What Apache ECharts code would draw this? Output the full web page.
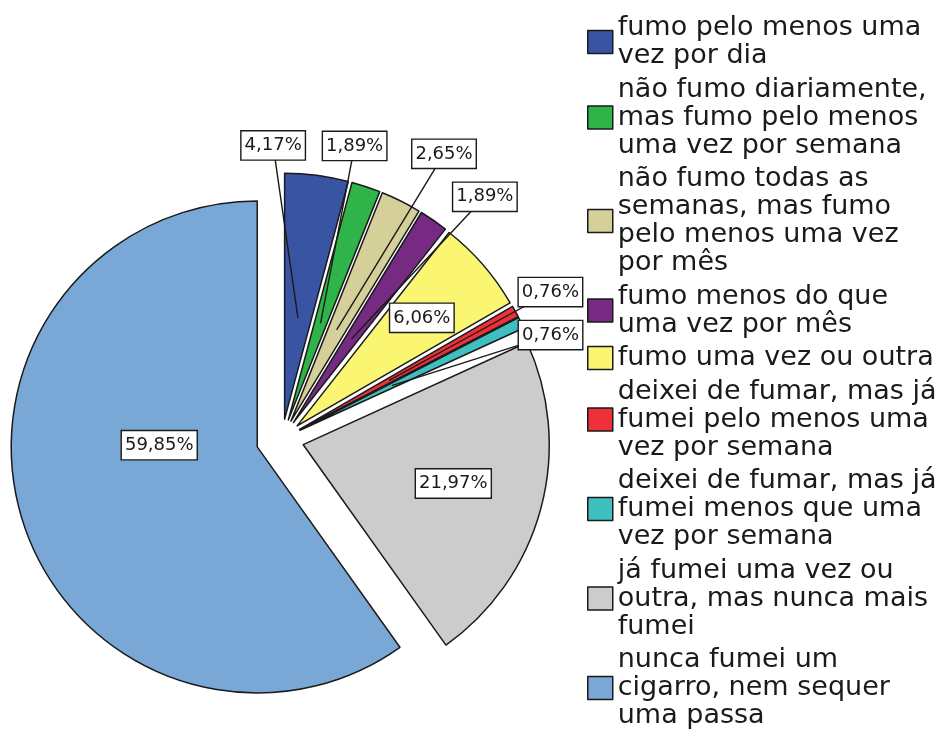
<!DOCTYPE html>
<html><head><meta charset="utf-8">
<script src="https://cdn.jsdelivr.net/npm/echarts@6/dist/echarts.min.js"></script>
<style>html,body{margin:0;padding:0;background:#fff}#c{width:947px;height:729px}</style>
</head><body><div id="c"></div>
<script>
// ---- data ----
const categories = [
  'fumo pelo menos uma\nvez por dia',
  'não fumo diariamente,\nmas fumo pelo menos\numa vez por semana',
  'não fumo todas as\nsemanas, mas fumo\npelo menos uma vez\npor mês',
  'fumo menos do que\numa vez por mês',
  'fumo uma vez ou outra',
  'deixei de fumar, mas já\nfumei pelo menos uma\nvez por semana',
  'deixei de fumar, mas já\nfumei menos que uma\nvez por semana',
  'já fumei uma vez ou\noutra, mas nunca mais\nfumei',
  'nunca fumei um\ncigarro, nem sequer\numa passa'
];
const percentages = [4.17, 1.89, 2.65, 1.89, 6.06, 0.76, 0.76, 21.97, 59.85];

// ---- styles / layout ----
const colors = ['#3a54a4','#2fb44a','#d5d09a','#762a82','#fbf672','#ee3039','#3ec0c0','#cccccc','#79a8d6'];
const C = [282, 439], R = 246;
const explode = [20,20,20,20,20,20,20,22,26];
const labelOutside = [true,true,true,true,false,true,true,false,false];
const labelAngle = [-2.4, 13.6, 29.8, 40.3, 49.1, 61.3, 69.2, 104.5, 271];
const labelDist  = [274, 282, 308, 296, 165, 286, 268, 155, 98];
const FONT = 'DejaVu Sans';
const INK = '#1a1a1a';

const total = percentages.reduce((a,b)=>a+b,0);
const rad = d => d*Math.PI/180;
let cum = 0;
const mids = percentages.map(v => { const m = (cum + v/2)/total*360; cum += v; return m; });

const fmt = v => v.toFixed(2).replace('.', ',') + '%';
const labelStyle = {
  fontFamily: FONT, fontSize: 18, lineHeight: 21, color: INK,
  backgroundColor: '#fff', borderColor: INK, borderWidth: 1.4,
  padding: [4, 3, 3, 3]
};

function makeSeries(s, overlay) {
  const m = rad(mids[s]);
  const cx = C[0] + explode[s]*Math.sin(m);
  const cy = C[1] - explode[s]*Math.cos(m);
  const showLabel = overlay ? labelOutside[s] : !labelOutside[s];
  return {
    type: 'pie', silent: true, animation: false, z: overlay ? 5 : 2,
    radius: R, center: [cx, cy], startAngle: 90, clockwise: true,
    avoidLabelOverlap: false,
    emphasis: { disabled: true },
    data: categories.map((name, i) => ({
      name: name, value: percentages[i],
      itemStyle: (i === s && !overlay) ? { color: colors[i], borderColor: INK, borderWidth: 1.5 }
                                       : { color: 'rgba(0,0,0,0)', borderWidth: 0 },
      label: (i === s && showLabel) ? Object.assign({
        show: true, position: labelOutside[i] ? 'outside' : 'inside',
        formatter: p => fmt(p.value)
      }, labelStyle) : { show: false },
      labelLine: { show: i === s && overlay && labelOutside[i], length: 10, length2: 0,
                   lineStyle: { color: INK, width: 1.4 } }
    })),
    labelLayout: function (p) {
      if (p.dataIndex !== s) return {};
      const a = rad(labelAngle[s]);
      const lx = cx + labelDist[s]*Math.sin(a);
      const ly = cy - labelDist[s]*Math.cos(a);
      const out = { x: lx, y: ly, align: 'center', verticalAlign: 'middle' };
      if (labelOutside[s]) {
        const ix = cx + 0.415*R*Math.sin(m);
        const iy = cy - 0.415*R*Math.cos(m);
        out.labelLinePoints = [[ix, iy], [(ix+lx)/2, (iy+ly)/2], [lx, ly]];
      }
      return out;
    }
  };
}

const series = [];
percentages.forEach((_, s) => series.push(makeSeries(s, false)));
percentages.forEach((_, s) => { if (labelOutside[s]) series.push(makeSeries(s, true)); });

const chart = echarts.init(document.getElementById('c'), null, { renderer: 'canvas' });
chart.setOption({
  backgroundColor: '#fff',
  animation: false,
  legend: {
    orient: 'vertical', left: 587, top: 14, height: 900, padding: 0,
    itemWidth: 25, itemHeight: 23, itemGap: 5.5,
    selectedMode: false, icon: 'rect',
    itemStyle: { borderColor: INK, borderWidth: 1.5 },
    textStyle: { fontFamily: FONT, fontSize: 27, lineHeight: 28, color: INK },
    data: categories.map((n, i) => ({ name: n, icon: 'rect', itemStyle: { color: colors[i], borderColor: INK, borderWidth: 1.5 } }))
  },
  series: series
});
</script>
</body></html>
